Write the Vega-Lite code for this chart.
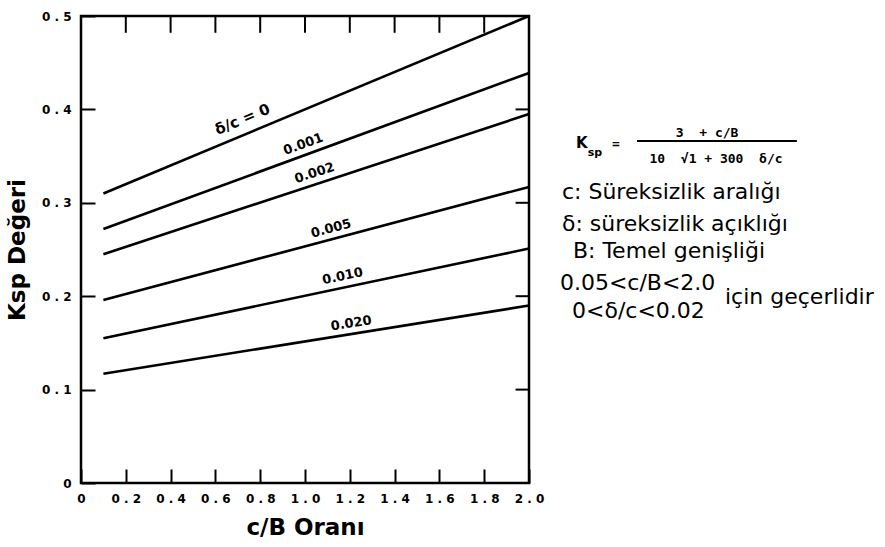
{
  "$schema": "https://vega.github.io/schema/vega-lite/v6.json",
  "width": 448,
  "height": 467,
  "autosize": {"type": "none"},
  "padding": {"left": 81, "top": 16, "right": 356, "bottom": 64},
  "background": "white",
  "config": {
    "font": "DejaVu Sans",
    "view": {"stroke": "black", "strokeWidth": 2.5},
    "axis": {"domain": false, "grid": false, "labelColor": "black", "titleColor": "black"}
  },
  "datasets": {
    "lines": [
      {"s": "0", "cB": 0.1, "k": 0.31}, {"s": "0", "cB": 2.0, "k": 0.5},
      {"s": "0.001", "cB": 0.1, "k": 0.272}, {"s": "0.001", "cB": 2.0, "k": 0.439},
      {"s": "0.002", "cB": 0.1, "k": 0.245}, {"s": "0.002", "cB": 2.0, "k": 0.395},
      {"s": "0.005", "cB": 0.1, "k": 0.196}, {"s": "0.005", "cB": 2.0, "k": 0.317},
      {"s": "0.010", "cB": 0.1, "k": 0.155}, {"s": "0.010", "cB": 2.0, "k": 0.251},
      {"s": "0.020", "cB": 0.1, "k": 0.117}, {"s": "0.020", "cB": 2.0, "k": 0.19}
    ],
    "topticks": [
      {"v": 0.2, "a": 0.482, "b": 0.5}, {"v": 0.4, "a": 0.482, "b": 0.5}, {"v": 0.6, "a": 0.482, "b": 0.5},
      {"v": 0.8, "a": 0.482, "b": 0.5}, {"v": 1.0, "a": 0.482, "b": 0.5}, {"v": 1.2, "a": 0.482, "b": 0.5},
      {"v": 1.4, "a": 0.482, "b": 0.5}, {"v": 1.6, "a": 0.482, "b": 0.5}, {"v": 1.8, "a": 0.482, "b": 0.5}
    ],
    "rightticks": [
      {"v": 0.1, "a": 1.94, "b": 2.0}, {"v": 0.2, "a": 1.94, "b": 2.0}, {"v": 0.3, "a": 1.94, "b": 2.0}, {"v": 0.4, "a": 1.94, "b": 2.0}
    ],
    "labels": [
      {"s": "0", "label": "δ/c = 0", "cB": 0.746, "k": 0.3746},
      {"s": "0.001", "label": "0.001", "cB": 1.009, "k": 0.3516},
      {"s": "0.002", "label": "0.002", "cB": 1.058, "k": 0.3208},
      {"s": "0.005", "label": "0.005", "cB": 1.129, "k": 0.2611},
      {"s": "0.010", "label": "0.010", "cB": 1.179, "k": 0.2089},
      {"s": "0.020", "label": "0.020", "cB": 1.214, "k": 0.1593}
    ],
    "notes": [
      {"t": "c: Süreksizlik aralığı", "cB": 2.147, "k": 0.3041},
      {"t": "δ: süreksizlik açıklığı", "cB": 2.147, "k": 0.2698},
      {"t": "B: Temel genişliği", "cB": 2.196, "k": 0.2409},
      {"t": "0.05<c/B<2.0", "cB": 2.138, "k": 0.2066},
      {"t": "0<δ/c<0.02", "cB": 2.192, "k": 0.1767},
      {"t": "için geçerlidir", "cB": 2.875, "k": 0.1916}
    ],
    "formula": [
      {"part": "K", "t": "K", "cB": 2.236, "k": 0.3587},
      {"part": "sub", "t": "sp", "cB": 2.262, "k": 0.3501},
      {"part": "eq", "t": "=", "cB": 2.388, "k": 0.3587},
      {"part": "frac", "t": "3\u00a0\u00a0+\u00a0c/B", "cB": 2.795, "k": 0.3704},
      {"part": "frac", "t": "10\u00a0\u00a0√1\u00a0+\u00a0300\u00a0\u00a0δ/c", "cB": 2.835, "k": 0.3426}
    ],
    "bar": [{"cB": 2.482, "cB2": 3.196, "k": 0.3662}]
  },
  "layer": [
    {
      "data": {"name": "lines"},
      "mark": {"type": "line", "color": "black", "strokeWidth": 2.6, "clip": false},
      "encoding": {
        "x": {
          "field": "cB", "type": "quantitative",
          "scale": {"domain": [0, 2], "nice": false, "zero": false},
          "axis": {
            "orient": "bottom",
            "values": [0, 0.2, 0.4, 0.6, 0.8, 1.0, 1.2, 1.4, 1.6, 1.8, 2.0],
            "ticks": true, "tickSize": -14, "tickColor": "black", "tickWidth": 2, "tickOpacity": 1,
            "labelFont": "DejaVu Sans", "labelFontWeight": "bold", "labelFontSize": 12,
            "labelPadding": 24, "labelFlush": false, "labelOverlap": false,
            "labelExpr": "datum.value == 0 ? '0' : join(split(format(datum.value, '.1f'), ''), ' ')",
            "title": "c/B Oranı", "titleFont": "DejaVu Sans", "titleFontSize": 23, "titleFontWeight": "bold", "titlePadding": 12
          }
        },
        "y": {
          "field": "k", "type": "quantitative",
          "scale": {"domain": [0, 0.5], "nice": false, "zero": false},
          "axis": {
            "orient": "left",
            "values": [0, 0.1, 0.2, 0.3, 0.4, 0.5],
            "ticks": true, "tickSize": -14, "tickColor": "black", "tickWidth": 2, "tickOpacity": 1,
            "labelFont": "DejaVu Sans", "labelFontWeight": "bold", "labelFontSize": 12,
            "labelPadding": 24, "labelFlush": false, "labelOverlap": false,
            "labelExpr": "datum.value == 0 ? '0' : join(split(format(datum.value, '.1f'), ''), ' ')",
            "title": "Ksp Değeri", "titleFont": "DejaVu Sans", "titleFontSize": 23, "titleFontWeight": "bold", "titlePadding": 12
          }
        },
        "detail": {"field": "s", "type": "nominal"}
      }
    },
    {
      "data": {"name": "topticks"},
      "mark": {"type": "rule", "color": "black", "strokeWidth": 2},
      "encoding": {
        "x": {"field": "v", "type": "quantitative"},
        "y": {"field": "a", "type": "quantitative"},
        "y2": {"field": "b"}
      }
    },
    {
      "data": {"name": "rightticks"},
      "mark": {"type": "rule", "color": "black", "strokeWidth": 2},
      "encoding": {
        "y": {"field": "v", "type": "quantitative"},
        "x": {"field": "a", "type": "quantitative"},
        "x2": {"field": "b"}
      }
    },
    {
      "data": {"name": "labels"},
      "transform": [{"filter": "datum.s == '0'"}],
      "mark": {"type": "text", "angle": -22.6, "dy": -15, "align": "center", "baseline": "middle", "fontSize": 15, "fontWeight": "bold", "color": "black"},
      "encoding": {
        "x": {"field": "cB", "type": "quantitative"},
        "y": {"field": "k", "type": "quantitative"},
        "text": {"field": "label"}
      }
    },
    {
      "data": {"name": "labels"},
      "transform": [{"filter": "datum.s == '0.001'"}],
      "mark": {"type": "text", "angle": -20.1, "dy": -11, "align": "center", "baseline": "middle", "fontSize": 13, "fontWeight": "bold", "color": "black"},
      "encoding": {
        "x": {"field": "cB", "type": "quantitative"},
        "y": {"field": "k", "type": "quantitative"},
        "text": {"field": "label"}
      }
    },
    {
      "data": {"name": "labels"},
      "transform": [{"filter": "datum.s == '0.002'"}],
      "mark": {"type": "text", "angle": -18.2, "dy": -11, "align": "center", "baseline": "middle", "fontSize": 13, "fontWeight": "bold", "color": "black"},
      "encoding": {
        "x": {"field": "cB", "type": "quantitative"},
        "y": {"field": "k", "type": "quantitative"},
        "text": {"field": "label"}
      }
    },
    {
      "data": {"name": "labels"},
      "transform": [{"filter": "datum.s == '0.005'"}],
      "mark": {"type": "text", "angle": -14.9, "dy": -11, "align": "center", "baseline": "middle", "fontSize": 13, "fontWeight": "bold", "color": "black"},
      "encoding": {
        "x": {"field": "cB", "type": "quantitative"},
        "y": {"field": "k", "type": "quantitative"},
        "text": {"field": "label"}
      }
    },
    {
      "data": {"name": "labels"},
      "transform": [{"filter": "datum.s == '0.010'"}],
      "mark": {"type": "text", "angle": -11.9, "dy": -12, "align": "center", "baseline": "middle", "fontSize": 13, "fontWeight": "bold", "color": "black"},
      "encoding": {
        "x": {"field": "cB", "type": "quantitative"},
        "y": {"field": "k", "type": "quantitative"},
        "text": {"field": "label"}
      }
    },
    {
      "data": {"name": "labels"},
      "transform": [{"filter": "datum.s == '0.020'"}],
      "mark": {"type": "text", "angle": -9.1, "dy": -11, "align": "center", "baseline": "middle", "fontSize": 13, "fontWeight": "bold", "color": "black"},
      "encoding": {
        "x": {"field": "cB", "type": "quantitative"},
        "y": {"field": "k", "type": "quantitative"},
        "text": {"field": "label"}
      }
    },
    {
      "data": {"name": "notes"},
      "mark": {"type": "text", "align": "left", "baseline": "alphabetic", "fontSize": 22, "color": "black"},
      "encoding": {
        "x": {"field": "cB", "type": "quantitative"},
        "y": {"field": "k", "type": "quantitative"},
        "text": {"field": "t"}
      }
    },
    {
      "data": {"name": "formula"},
      "transform": [{"filter": "datum.part == 'K'"}],
      "mark": {"type": "text", "align": "center", "baseline": "alphabetic", "fontSize": 15, "fontWeight": "bold", "color": "black"},
      "encoding": {
        "x": {"field": "cB", "type": "quantitative"},
        "y": {"field": "k", "type": "quantitative"},
        "text": {"field": "t"}
      }
    },
    {
      "data": {"name": "formula"},
      "transform": [{"filter": "datum.part == 'sub'"}],
      "mark": {"type": "text", "align": "left", "baseline": "alphabetic", "fontSize": 11, "fontWeight": "bold", "color": "black"},
      "encoding": {
        "x": {"field": "cB", "type": "quantitative"},
        "y": {"field": "k", "type": "quantitative"},
        "text": {"field": "t"}
      }
    },
    {
      "data": {"name": "formula"},
      "transform": [{"filter": "datum.part == 'eq' || datum.part == 'frac'"}],
      "mark": {"type": "text", "align": "center", "baseline": "alphabetic", "font": "DejaVu Sans Mono", "fontSize": 13, "fontWeight": "bold", "color": "black"},
      "encoding": {
        "x": {"field": "cB", "type": "quantitative"},
        "y": {"field": "k", "type": "quantitative"},
        "text": {"field": "t"}
      }
    },
    {
      "data": {"name": "bar"},
      "mark": {"type": "rule", "color": "black", "strokeWidth": 2},
      "encoding": {
        "x": {"field": "cB", "type": "quantitative"},
        "x2": {"field": "cB2"},
        "y": {"field": "k", "type": "quantitative"}
      }
    }
  ]
}
